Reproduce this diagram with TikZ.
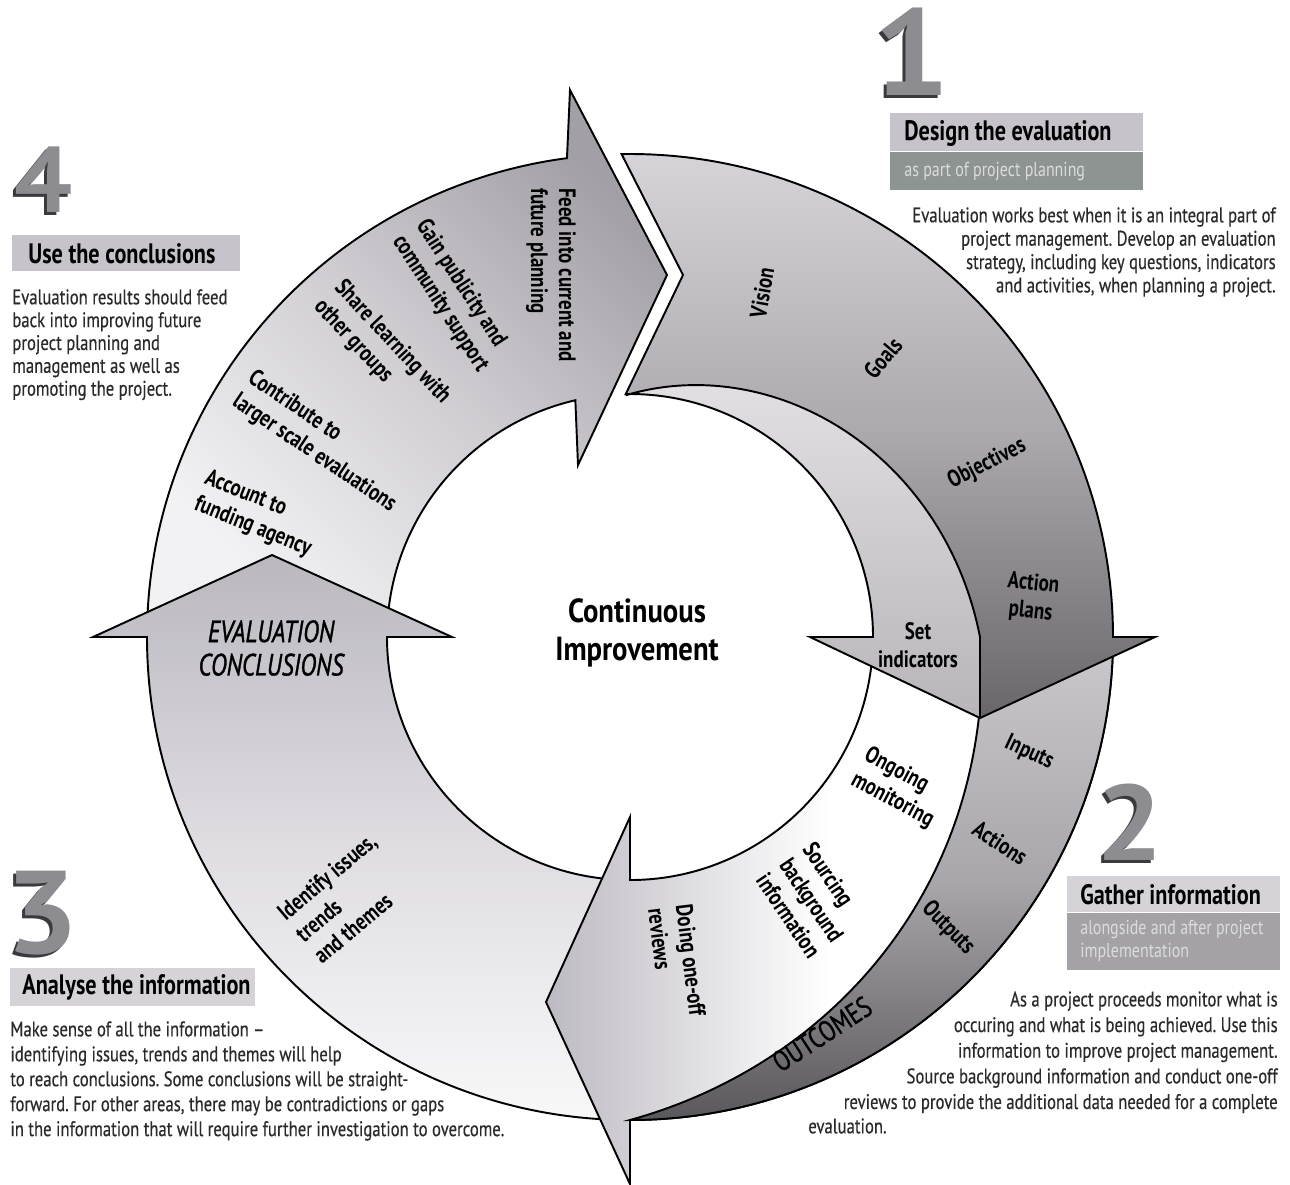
\documentclass[tikz,border=0pt]{standalone}
\usepackage{fontspec}
\setmainfont{PT Sans}
\newfontfamily\cond[FakeStretch=0.79, FakeBold=0.35]{PT Sans}
\newfontfamily\headfont[FakeStretch=0.79]{PT Sans}
\newfontfamily\lblfont[FakeStretch=0.80]{PT Sans}
\newfontfamily\capsfont[FakeStretch=0.78, FakeBold=1.1]{PT Sans}
\newfontfamily\semicond[FakeStretch=0.86]{PT Sans}
\newfontfamily\digitfont[FakeStretch=1.1]{PT Sans}
\usetikzlibrary{calc}

\definecolor{ink}{HTML}{2A2A2A}
\definecolor{digitfill}{HTML}{8D8C90}
\definecolor{digitedge}{HTML}{3A393D}
\definecolor{boxpale}{HTML}{D5D3D8}
\definecolor{boxmid}{HTML}{C6C3CA}
\definecolor{boxdeep}{HTML}{8E9491}
\definecolor{boxgrey}{HTML}{A4A2A7}
\definecolor{subink}{HTML}{DCDCDC}
\definecolor{useHead}{HTML}{A2A0A6}
\definecolor{useMid}{HTML}{D0CED3}
\definecolor{useTail}{HTML}{F2F1F3}
\definecolor{conHead}{HTML}{BAB7BF}
\definecolor{conMid}{HTML}{DEDCE1}
\definecolor{conTail}{HTML}{F8F8F9}
\definecolor{revHead}{HTML}{BDBAC2}
\definecolor{bandTop}{HTML}{CAC8CC}
\definecolor{bandMid}{HTML}{A8A6AA}
\definecolor{bandLow}{HTML}{5A585C}
\definecolor{desTop}{HTML}{D6D4D8}
\definecolor{desMid}{HTML}{ABA9AD}
\definecolor{desLow}{HTML}{68666A}
\definecolor{indTop}{HTML}{E2DFE3}
\definecolor{indLow}{HTML}{B8B5BA}

\tikzset{
  outline/.style={draw=black, line width=1.1pt, line join=miter},
  ringlbl/.style={font=\lblfont\bfseries\fontsize{13.5}{16}\selectfont, inner sep=0pt, align=left},
  ringlblc/.style={ringlbl, align=center},
  para/.style={font=\cond\fontsize{12}{13.3}\selectfont, text=ink, inner sep=0pt},
  headtxt/.style={font=\headfont\bfseries\fontsize{16}{18}\selectfont, inner sep=0pt, anchor=west},
  subtxt/.style={font=\headfont\fontsize{11.5}{13}\selectfont, text=subink, inner sep=0pt, align=left},
  bignum/.style={font=\digitfont\bfseries\fontsize{#1}{#1}\selectfont, inner sep=0pt},
}

\begin{document}
\frenchspacing
\begin{tikzpicture}[x=0.02cm, y=0.02cm]
\useasboundingbox (0,0) rectangle (1290,-1184);
\fill[white] (0,0) rectangle (1290,-1184);

% ---------------- the cycle of four arrows ----------------
\begin{scope}[shift={(630,-637)}]
  % 4: use the conclusions (top left)
  \draw[outline, top color=useHead, bottom color=useTail, middle color=useMid, shading angle=-45]
    (178:483) arc[start angle=178, end angle=97.5, radius=483]
    -- (-60,547) -- (37,362) -- (-52,172)
    -- (103:243) arc[start angle=103, end angle=178, radius=243] -- cycle;

  % 3: evaluation conclusions (left)
  \draw[outline, top color=conHead, bottom color=conTail, middle color=conMid]
    (270:483) arc[start angle=270, end angle=180, radius=483]
    -- (-537,0) -- (-358,82) -- (-178,0)
    -- (180:243) arc[start angle=180, end angle=270, radius=243] -- cycle;

  % 2: gather information (bottom right)
  \draw[outline, left color=revHead, right color=white, middle color=white]
    (-2:483) arc[start angle=-2, end angle=-90, radius=483]
    -- (0,-547) -- (-84,-365) -- (0,-180)
    -- (0,-243) arc[start angle=-90, end angle=-2, radius=243] -- cycle;
  % outcomes band tapering into the arrow
  \draw[outline, top color=bandTop, bottom color=bandLow, middle color=bandMid]
    (-1:483) arc[start angle=-1, end angle=-90, radius=483]
    -- plot[domain=90:1, samples=90] (-\x:{352+131*(\x/90)^1.6}) -- cycle;

  % 1: design the evaluation (top right)
  \shade[top color=desTop, bottom color=desLow, middle color=desMid]
    (91:483) arc[start angle=91, end angle=0, radius=483]
    -- (525,0) -- (350,-81) -- (350,0)
    -- plot[domain=0:91, samples=70] (\x:{350-107*\x/90}) -- (53,362) -- cycle;
  \shade[top color=indTop, bottom color=indLow]
    (91:243) arc[start angle=91, end angle=0, radius=243]
    -- (180,0) -- (350,-81) -- (350,0)
    -- plot[domain=0:91, samples=70] (\x:{350-107*\x/90}) -- cycle;
  \draw[outline]
    (91:483) arc[start angle=91, end angle=0, radius=483]
    -- (525,0) -- (350,-81) -- (180,0)
    -- (0:243) arc[start angle=0, end angle=91, radius=243] -- (53,362) -- cycle;
  \draw[outline] (350,-81) -- (350,0)
    -- plot[domain=0:91, samples=70] (\x:{350-107*\x/90});
\end{scope}

% ---------------- labels inside the cycle ----------------
\node[font=\semicond\bfseries\fontsize{19}{21.5}\selectfont, align=center, inner sep=0pt]
  (centre) at (637,-633) {Continuous\\Improvement};

\node[ringlbl, rotate=-90] (feed)  at (551,-275) {Feed into current and\\future planning};
\node[ringlbl, rotate=-57] (gain)  at (452,-296) {Gain publicity and\\community support};
\node[ringlbl, rotate=-47] (share) at (382,-352) {Share learning with\\other groups};
\node[ringlbl, rotate=-34] (contr) at (322,-442) {Contribute to\\larger scale evaluations};
\node[ringlbl, rotate=-22] (acct)  at (258,-514) {Account to\\funding agency};

\node[font=\capsfont\itshape\fontsize{17.5}{19}\selectfont, align=center, inner sep=0pt]
  (evcon) at (271,-648) {EVALUATION\\CONCLUSIONS};
\node[ringlbl, rotate=40] (ident) at (345,-898) {Identify issues,\\trends\\and themes};

\node[ringlbl, rotate=80] (vision) at (762,-293) {Vision};
\node[ringlbl, rotate=50] (goals)  at (883,-358) {Goals};
\node[ringlbl, rotate=27] (objs)   at (987,-464) {Objectives};
\node[ringlblc, rotate=-6] (actpl) at (1032,-598) {Action\\plans};
\node[ringlblc] (setind) at (918,-645) {Set\\indicators};

\node[ringlbl, rotate=-25] (inputs)  at (1029,-753) {Inputs};
\node[ringlbl, rotate=-33] (actions) at (1000,-843) {Actions};
\node[ringlbl, rotate=-46] (outputs) at (948,-928) {Outputs};
\node[font=\capsfont\fontsize{16.5}{17}\selectfont, inner sep=0pt, rotate=33]
  (outcomes) at (822,-1034) {OUTCOMES};

\node[ringlbl, rotate=-28] (ongo) at (899,-788) {Ongoing\\monitoring};
\node[ringlbl, rotate=-56] (src)  at (812,-900) {Sourcing\\background\\information};
\node[ringlbl, rotate=-83] (doing) at (677,-962) {Doing one-off\\reviews};

% ---------------- 1: design the evaluation ----------------
\node[bignum=70, text=digitedge] (n1s) at (909,-55) {1};
\node[bignum=70, text=digitfill] (n1) at (912,-52) {1};
\fill[boxmid] (890,-113) rectangle (1143,-151);
\fill[boxdeep] (890,-152) rectangle (1143,-190);
\node[headtxt] (h1) at (904,-133) {Design the evaluation};
\node[subtxt, anchor=west] (s1) at (904,-171) {as part of project planning};
\node[para, align=right, anchor=north east] (p1) at (1276,-207)
  {Evaluation works best when it is an integral part of\\
   project management. Develop an evaluation\\
   strategy, including key questions, indicators\\
   and activities, when planning a project.};

% ---------------- 2: gather information ----------------
\node[bignum=61, text=digitedge] (n2s) at (1127,-825) {2};
\node[bignum=61, text=digitfill] (n2) at (1130,-822) {2};
\fill[boxpale] (1067,-876) rectangle (1280,-912);
\fill[boxgrey] (1067,-913) rectangle (1280,-970);
\node[headtxt] (h2) at (1080,-895) {Gather information};
\node[subtxt, anchor=north west] (s2) at (1080,-920) {alongside and after project\\implementation};
\node[para, align=right, anchor=north east, font=\cond\fontsize{12}{14.6}\selectfont] (p2) at (1278,-991)
  {As a project proceeds monitor what is\\
   occuring and what is being achieved. Use this\\
   information to improve project management.\\
   Source background information and conduct one-off\\
   reviews to provide the additional data needed for a complete};
\node[para, anchor=north west] (p2b) at (808,-1118) {evaluation.};

% ---------------- 3: analyse the information ----------------
\node[bignum=67, text=digitedge] (n3s) at (39,-916) {3};
\node[bignum=67, text=digitfill] (n3) at (42,-913) {3};
\fill[boxpale] (10,-968) rectangle (255,-1006);
\node[headtxt] (h3) at (22,-987) {Analyse the information};
\node[para, align=left, anchor=north west, font=\cond\fontsize{12}{14.2}\selectfont] (p3) at (10,-1021)
  {Make sense of all the information \textendash\\
   identifying issues, trends and themes will help\\
   to reach conclusions. Some conclusions will be straight-\\
   forward. For other areas, there may be contradictions or gaps\\
   in the information that will require further investigation to overcome.};

% ---------------- 4: use the conclusions ----------------
\node[bignum=53, text=digitedge] (n4s) at (41,-183) {4};
\node[bignum=53, text=digitfill] (n4) at (44,-180) {4};
\fill[boxmid] (12,-235) rectangle (240,-271);
\node[headtxt] (h4) at (28,-254) {Use the conclusions};
\node[para, align=left, anchor=north west, font=\cond\fontsize{12}{13}\selectfont] (p4) at (12,-289)
  {Evaluation results should feed\\
   back into improving future\\
   project planning and\\
   management as well as\\
   promoting the project.};
\end{tikzpicture}
\end{document}
